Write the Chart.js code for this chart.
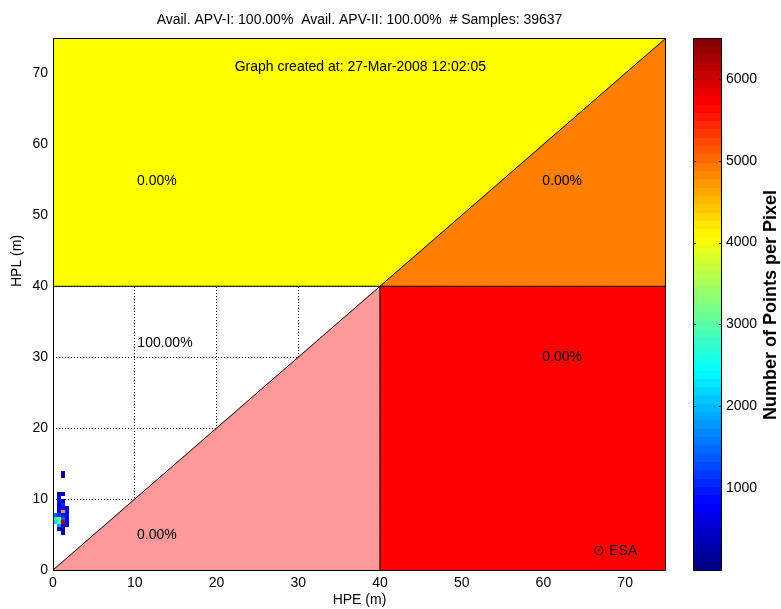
<!DOCTYPE html>
<html>
<head>
<meta charset="utf-8">
<script src="https://cdn.jsdelivr.net/npm/chart.js@4.4.1/dist/chart.umd.min.js"></script>
<style>
  html, body { margin: 0; padding: 0; background: #fff; }
  canvas { display: block; }
</style>
</head>
<body>
<canvas id="stanford" width="781" height="609"></canvas>
<script>
// ---- data ----
const titleText = 'Avail. APV-I: 100.00%  Avail. APV-II: 100.00%  # Samples: 39637';
const createdText = 'Graph created at: 27-Mar-2008 12:02:05';
const hpeTicks = [0, 10, 20, 30, 40, 50, 60, 70];
const hplTicks = [0, 10, 20, 30, 40, 50, 60, 70];
const countTicks = [1000, 2000, 3000, 4000, 5000, 6000];
const alertLimit = 40;     // m
const axisMax = 75;        // m
const countMax = 6500;     // colour scale top
const binSize = 0.5;       // m, histogram cell size

// histogram cells: centre HPE, centre HPL, number of samples
const binHPE = [0.75, 1.25, 0.75, 0.75, 1.25, 0.75, 1.25, 0.75, 1.25, 1.75,
                0.75, 1.25, 1.75, 0.25, 0.75, 1.25, 1.75, 0.25, 0.75, 1.25,
                1.75, 0.25, 0.75, 1.25, 1.75, 0.75, 1.25, 1.75, 0.75, 1.25,
                1.25, 1.25, 1.25];
const binHPL = [10.75, 10.75, 10.25, 9.75, 9.75, 9.25, 9.25, 8.75, 8.75, 8.75,
                8.25, 8.25, 8.25, 7.75, 7.75, 7.75, 7.75, 7.25, 7.25, 7.25,
                7.25, 6.75, 6.75, 6.75, 6.75, 6.25, 6.25, 6.25, 5.75, 5.75,
                5.25, 13.75, 13.25];
const binCount = [250, 400, 600, 900, 300, 700, 1100, 500, 900, 400,
                  800, 4700, 700, 1500, 1200, 1000, 900, 2600, 3300, 1400,
                  800, 2200, 2900, 6200, 600, 1800, 900, 400, 600, 300,
                  150, 200, 150];

const zoneText = ['0.00%', '0.00%', '100.00%', '0.00%', '0.00%'];

// ---- helpers ----
function jetColor(t) {
  const k = Math.min(63, Math.max(0, Math.floor(t * 64)));
  const u = (k + 0.5) / 64;
  const c = v => Math.round(255 * Math.max(0, Math.min(1, v)));
  return `rgb(${c(1.5 - Math.abs(4 * u - 3))},${c(1.5 - Math.abs(4 * u - 2))},${c(1.5 - Math.abs(4 * u - 1))})`;
}
const P = (x, y) => ({ x, y });
const AL = alertLimit, M = axisMax;

function zone(points, color) {
  return { data: points.concat([points[0]]), backgroundColor: color, borderWidth: 0,
           pointRadius: 0, fill: 'shape', tension: 0, order: 5 };
}
function edge(points) {
  return { data: points, borderColor: '#000', borderWidth: 1, pointRadius: 0,
           fill: false, tension: 0, order: 1 };
}

const FONT = "'Liberation Sans', Arial, Helvetica, sans-serif";
const plain = v => String(v);

// label anchors, in axis units
const zoneAnchors = [[12.7, 54.8], [62.3, 54.8], [13.7, 32.0], [62.3, 30.0], [12.7, 4.9]];

const decor = {
  id: 'stanfordDecor',
  beforeDraw(chart) {
    const { ctx } = chart;
    ctx.save();
    ctx.fillStyle = '#fff';
    ctx.fillRect(0, 0, chart.width, chart.height);
    ctx.restore();
  },
  afterDatasetsDraw(chart) {
    const { ctx, scales: { x, y } } = chart;
    ctx.save();
    // 2-D histogram of (HPE, HPL)
    for (let i = 0; i < binCount.length; i++) {
      const x0 = Math.round(x.getPixelForValue(binHPE[i] - binSize / 2));
      const x1 = Math.round(x.getPixelForValue(binHPE[i] + binSize / 2));
      const y0 = Math.round(y.getPixelForValue(binHPL[i] + binSize / 2));
      const y1 = Math.round(y.getPixelForValue(binHPL[i] - binSize / 2));
      ctx.fillStyle = jetColor(binCount[i] / countMax);
      ctx.fillRect(x0, y0, x1 - x0, y1 - y0);
    }
    // zone percentages
    ctx.font = `14px ${FONT}`;
    ctx.fillStyle = '#000';
    ctx.textAlign = 'center';
    ctx.textBaseline = 'middle';
    zoneText.forEach((t, i) => {
      ctx.fillText(t, x.getPixelForValue(zoneAnchors[i][0]), y.getPixelForValue(zoneAnchors[i][1]));
    });
    ctx.fillText(createdText, x.getPixelForValue(37.6), y.getPixelForValue(70.9));
    ctx.fillStyle = '#200';
    ctx.fillText('\u2299 ESA', x.getPixelForValue(68.8), y.getPixelForValue(2.7));
    ctx.restore();
  },
  afterDraw(chart) {
    const { ctx, chartArea: a, scales: { cb } } = chart;
    ctx.save();
    // axes box
    ctx.strokeStyle = '#000';
    ctx.lineWidth = 1;
    ctx.strokeRect(Math.round(a.left) + 0.5, Math.round(a.top) + 0.5,
                   Math.round(a.right - a.left) - 1, Math.round(a.bottom - a.top));

    // colour bar
    const bl = Math.round(cb.left + 27), br = Math.round(cb.left + 56);
    for (let k = 0; k < 64; k++) {
      const v0 = k * countMax / 64, v1 = (k + 1) * countMax / 64;
      const yb = Math.round(cb.getPixelForValue(v0)), yt = Math.round(cb.getPixelForValue(v1));
      ctx.fillStyle = jetColor((k + 0.5) / 64);
      ctx.fillRect(bl, yt, br - bl, yb - yt);
    }
    ctx.strokeStyle = '#000';
    ctx.strokeRect(bl + 0.5, Math.round(cb.top) + 0.5, br - bl - 1, Math.round(cb.bottom - cb.top));
    ctx.strokeStyle = '#222';
    countTicks.forEach(v => {
      const yy = Math.round(cb.getPixelForValue(v)) + 0.5;
      ctx.beginPath();
      ctx.moveTo(bl, yy); ctx.lineTo(bl + 3, yy);
      ctx.moveTo(br - 3, yy); ctx.lineTo(br, yy);
      ctx.stroke();
    });

    // titles
    ctx.fillStyle = '#000';
    ctx.textAlign = 'center';
    ctx.textBaseline = 'middle';
    ctx.font = `14px ${FONT}`;
    ctx.fillText(titleText, (a.left + a.right) / 2, 20);

    ctx.save();
    ctx.translate(17, 261);
    ctx.rotate(-Math.PI / 2);
    ctx.fillText('HPL (m)', 0, 0);
    ctx.restore();

    ctx.save();
    ctx.translate(771, 305);
    ctx.rotate(-Math.PI / 2);
    ctx.font = `bold 18px ${FONT}`;
    ctx.fillText('Number of Points per Pixel', 0, 0);
    ctx.restore();

    ctx.restore();
  }
};

new Chart(document.getElementById('stanford'), {
  type: 'line',
  data: {
    datasets: [
      edge([P(0, 0), P(M, M)]),
      edge([P(0, AL), P(M, AL)]),
      edge([P(AL, 0), P(AL, AL)]),
      zone([P(0, AL), P(AL, AL), P(M, M), P(0, M)], '#ffff00'),
      zone([P(AL, AL), P(M, AL), P(M, M)], '#ff8000'),
      zone([P(AL, 0), P(M, 0), P(M, AL), P(AL, AL)], '#ff0000'),
      zone([P(0, 0), P(AL, 0), P(AL, AL)], '#ff9999')
    ]
  },
  options: {
    responsive: false,
    animation: false,
    events: [],
    layout: { padding: { top: 38, left: 0, right: 0, bottom: 0 } },
    plugins: { legend: { display: false }, tooltip: { enabled: false }, title: { display: false } },
    scales: {
      x: {
        type: 'linear', min: 0, max: axisMax,
        afterBuildTicks: s => { s.ticks = hpeTicks.map(v => ({ value: v })); },
        afterFit: s => { s.height = 39; },
        grid: { color: '#000', lineWidth: 1, drawTicks: false },
        border: { display: false, dash: [1, 2] },
        ticks: { padding: 5, color: '#000', font: { family: FONT, size: 14 }, callback: plain },
        title: { display: true, text: 'HPE (m)', color: '#000',
                 font: { family: FONT, size: 14 }, padding: { top: 0, bottom: 0 } }
      },
      y: {
        type: 'linear', min: 0, max: axisMax,
        afterBuildTicks: s => { s.ticks = hplTicks.map(v => ({ value: v })); },
        afterFit: s => { s.width = 53; },
        grid: { color: '#000', lineWidth: 1, drawTicks: false },
        border: { display: false, dash: [1, 2] },
        ticks: { padding: 5, color: '#000', font: { family: FONT, size: 14 }, callback: plain }
      },
      cb: {
        type: 'linear', position: 'right', min: 0, max: countMax,
        afterBuildTicks: s => { s.ticks = countTicks.map(v => ({ value: v })); },
        afterFit: s => { s.width = 115; },
        grid: { drawOnChartArea: false, drawTicks: true, tickLength: 56, tickColor: 'rgba(0,0,0,0)' },
        border: { display: false },
        ticks: { padding: 4, color: '#000', font: { family: FONT, size: 14 }, callback: plain }
      }
    }
  },
  plugins: [decor]
});
</script>
</body>
</html>
